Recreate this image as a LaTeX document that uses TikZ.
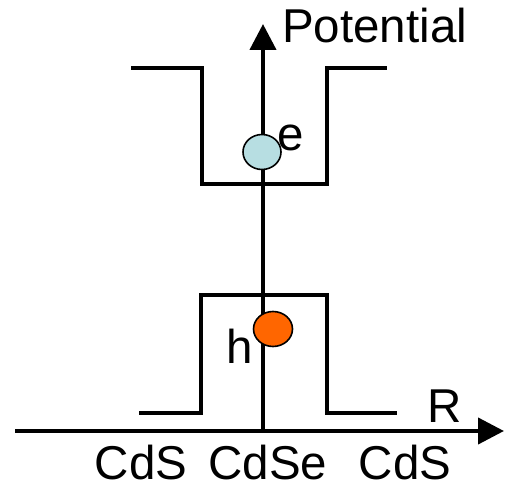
\documentclass[tikz,border=0pt]{standalone}
\usepackage{fontspec}
\setmainfont{Liberation Sans}
\usetikzlibrary{arrows.meta,shapes.geometric}
\begin{document}
\begin{tikzpicture}[x=1pt,y=-1pt,
  lbl/.style={inner sep=0pt,font=\fontsize{47.5}{52}\selectfont},
  bandline/.style={line width=4.2pt,line join=miter},
  axis/.style={line width=4.2pt,-{Triangle[length=26pt,width=26pt]}},
  carrier/.style={draw,line width=1.6pt,ellipse,minimum width=38pt,minimum height=35pt,inner sep=0pt}]
\useasboundingbox (0,0) rectangle (507,492);
\definecolor{ecol}{HTML}{B7DEE2}
\definecolor{hcol}{HTML}{FF6600}
% axes
\coordinate (yb) at (263,431);
\coordinate (yt) at (263,24);
\coordinate (xl) at (15,431);
\coordinate (xr) at (504,431);
\draw[axis] (yb) -- (yt);
\draw[axis] (xl) -- (xr);
% conduction band
\draw[bandline] (131,68) -- (202,68) -- (202,184) -- (327,184) -- (327,68) -- (387,68);
% valence band
\draw[bandline] (139,413) -- (201,413) -- (201,295) -- (327,295) -- (327,413) -- (397,413);
% carriers
\node[carrier,fill=ecol] (e) at (262,152) {};
\node[carrier,fill=hcol,minimum width=39pt,minimum height=35pt] (h) at (273,329) {};
% labels
\node[lbl,anchor=base west] (pot) at (282,43) {Potential};
\node[lbl,anchor=base west] (el) at (277,151) {e};
\node[lbl,anchor=base west] (hl) at (226,363) {h};
\node[lbl,anchor=base west] (rl) at (427,422) {R};
\node[lbl,anchor=base] (c1) at (141,479) {CdS};
\node[lbl,anchor=base] (c2) at (268,479) {CdSe};
\node[lbl,anchor=base] (c3) at (405,479) {CdS};
\end{tikzpicture}
\end{document}
